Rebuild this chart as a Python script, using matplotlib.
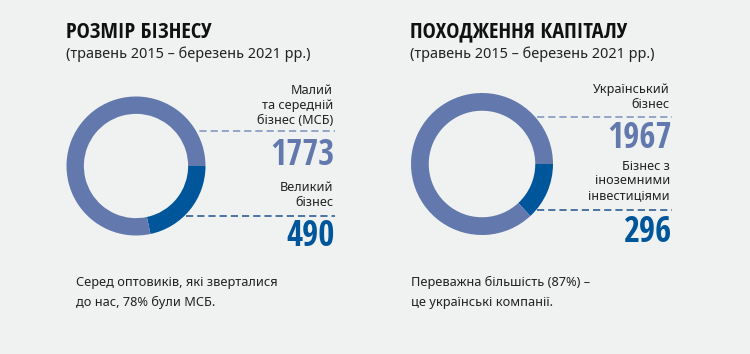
import os
import matplotlib
matplotlib.use('Agg')
import matplotlib.pyplot as plt
from matplotlib import font_manager

# data
size_title = 'РОЗМІР БІЗНЕСУ'
origin_title = 'ПОХОДЖЕННЯ КАПІТАЛУ'
period = '(травень 2015 – березень 2021 рр.)'

size_labels = [['Малий', 'та середній', 'бізнес (МСБ)'], ['Великий', 'бізнес']]
size_values = [1773, 490]
size_note = ['Серед оптовиків, які зверталися', 'до нас, 78% були МСБ.']

origin_labels = [['Український', 'бізнес'], ['Бізнес з', 'іноземними', 'інвестиціями']]
origin_values = [1967, 296]
origin_note = ['Переважна більшість (87%) –', 'це українські компанії.']

BG = '#f0f2f2'
LIGHT = '#6379ae'
DARK = '#00569a'
TEXT = '#222222'


def find_condensed_bold():
    best = None
    best_score = -1
    for f in font_manager.fontManager.ttflist:
        key = (f.name + ' ' + os.path.basename(f.fname)).lower()
        if not ('cond' in key or 'narrow' in key):
            continue
        w = f.weight if isinstance(f.weight, int) else (700 if 'bold' in str(f.weight) else 400)
        if 'bold' not in key and w < 600:
            continue
        if 'semibold' in key or 'extrabold' in key or 'black' in key:
            continue
        if 'italic' in key or 'oblique' in key:
            continue
        score = 10
        if 'extra' in key or 'ultra' in key or 'semi' in key:
            score -= 5
        if 'noto' in key or 'open' in key:
            score += 3
        if score > best_score:
            best, best_score = f.fname, score
    return best


cond_path = find_condensed_bold()


def bold_cond(size):
    if cond_path:
        return font_manager.FontProperties(fname=cond_path, size=size)
    return font_manager.FontProperties(family='DejaVu Sans', weight='bold', size=size)


body = dict(family=['Noto Sans', 'DejaVu Sans'], color=TEXT)

fig = plt.figure(figsize=(7.5, 3.54), dpi=100, facecolor=BG)
bg = fig.add_axes([0, 0, 1, 1])
bg.set_xlim(0, 750)
bg.set_ylim(354, 0)
bg.axis('off')
bg.set_facecolor(BG)


def panel(x0, right, cx, cy, r, title, labels, values, note, note_x, line_y, label_base, num_base):
    bg.text(x0, 37.5, title, fontproperties=bold_cond(16), color='#111111', va='baseline')
    bg.text(x0, 57.5, period, fontsize=10.4, va='baseline', **body)

    ax = fig.add_axes([(cx - r) / 750, (354 - cy - r) / 354, 2 * r / 750, 2 * r / 354])
    ax.pie([values[1], values[0]], colors=[DARK, LIGHT], startangle=0, counterclock=False,
           radius=1, wedgeprops=dict(width=0.25, linewidth=0))
    ax.set_xlim(-1, 1)
    ax.set_ylim(-1, 1)
    ax.set_aspect('auto')
    ax.axis('off')

    cols = [LIGHT, DARK]
    dash_cols = ['#8e9fc4', '#3d6a9c']
    for i in range(2):
        for j, line in enumerate(labels[i]):
            bg.text(right, label_base[i] + j * 15, line, fontsize=9.1, ha='right', va='baseline', **body)
        ly, lx = line_y[i]
        bg.plot([lx, right + 2], [ly, ly], color=dash_cols[i], lw=1.3, ls=(0, (4, 2.2)))
        bg.text(right + 2, num_base[i], str(values[i]), fontproperties=bold_cond(25),
                color=cols[i], ha='right', va='baseline')

    for j, line in enumerate(note):
        bg.text(note_x, 286 + j * 20, line, fontsize=9.2, va='baseline', **body)


panel(66, 333, 136, 166, 69.5, size_title, size_labels, size_values, size_note, 76,
      [(130.5, 177), (215.5, 186)], [94.5, 191], [165, 246.5])
panel(410, 670, 482, 164, 71, origin_title, origin_labels, origin_values, origin_note, 411,
      [(116.5, 537), (209.5, 537)], [93.5, 169.5], [148, 241.5])

fig.savefig('out.png', dpi=100, facecolor=BG)
